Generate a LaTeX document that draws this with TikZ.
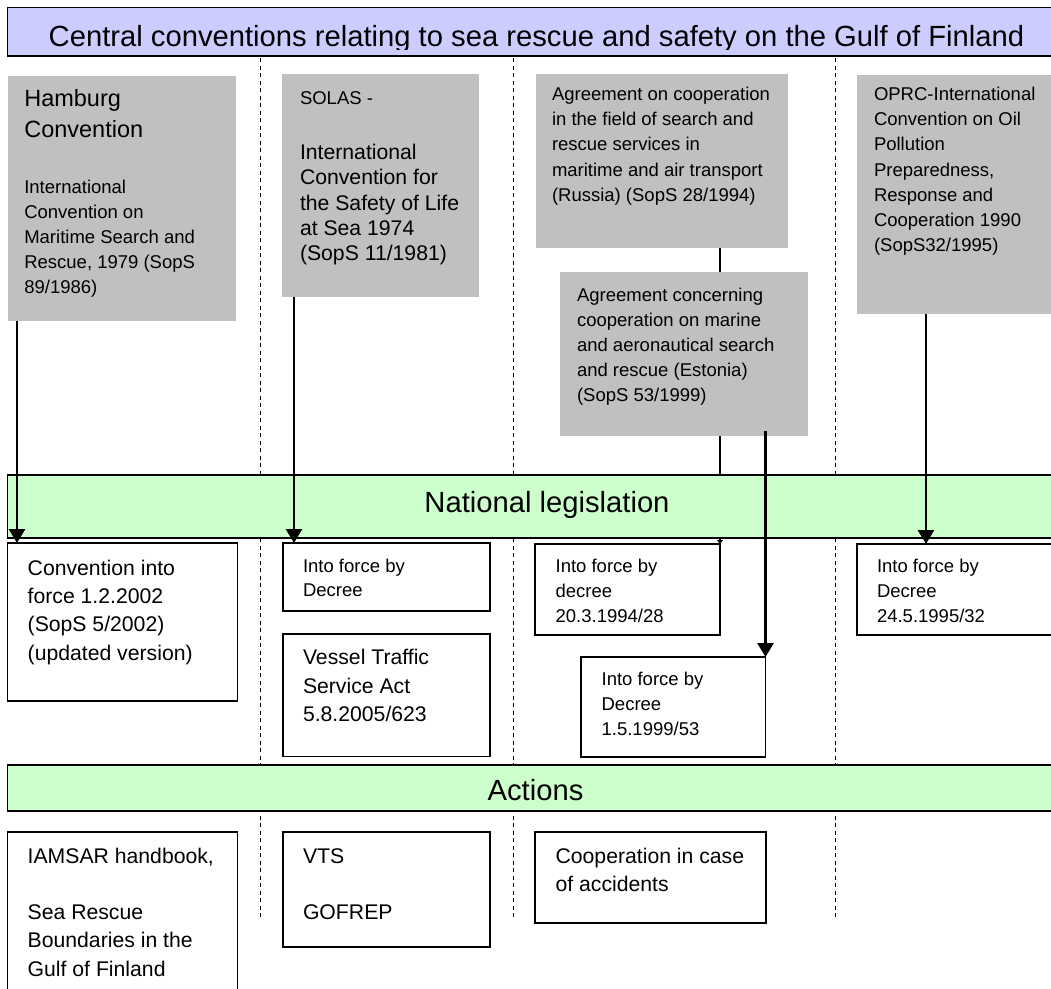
\documentclass[tikz,border=0pt]{standalone}
\usepackage{fontspec}
\setmainfont{Liberation Sans}
\usetikzlibrary{arrows.meta}
\definecolor{graybg}{HTML}{C0C0C0}
\definecolor{lav}{HTML}{CCCCFF}
\definecolor{mint}{HTML}{CCFFCC}
\newcommand\tblock[3]{\vtop{\fontsize{#1}{#2}\selectfont\lineskiplimit=-100pt\lineskip=0pt\relax\halign{##\hfil\cr#3\crcr}}}
\tikzset{
  graybox/.style={fill=graybg, draw=none, anchor=north west},
  whitebox/.style={fill=white, draw=black, line width=1.6pt, anchor=north west},
  band/.style={fill=mint, draw=black, line width=1.6pt, anchor=north west},
  titlebar/.style={fill=lav, draw=black, line width=1.6pt, anchor=north west},
  txt/.style={anchor=base west},
  bandtxt/.style={anchor=base, font=\fontsize{29.2pt}{35pt}\selectfont},
  conn/.style={line width=2.7pt, -{Triangle[width=16pt,length=14pt]}},
  smallconn/.style={line width=2.7pt, -{Triangle[width=6pt,length=4pt]}},
  divline/.style={line width=1pt, dash pattern=on 4pt off 3.5pt}
}
\begin{document}
\begin{tikzpicture}[x=1pt, y=-1pt, every node/.style={inner sep=0pt, outer sep=0pt}]
\useasboundingbox (0,0) rectangle (1051,988);
\clip (0,0) rectangle (1051,988);

% dashed column separators
\coordinate (d1t) at (260,58);  \coordinate (d1b) at (260,920);
\coordinate (d2t) at (513,58);  \coordinate (d2b) at (513,920);
\coordinate (d3t) at (835,58);  \coordinate (d3b) at (835,920);
\draw[divline] (d1t) -- (d1b);
\draw[divline] (d2t) -- (d2b);
\draw[divline] (d3t) -- (d3b);

% title
\node[titlebar, minimum width=1060pt, minimum height=48.7pt] (title) at (7.3,7.3) {};
\begin{scope}
\clip (0,0) rectangle (1051,49.5);
\node[bandtxt] (titletext) at (536.5,46) {Central conventions relating to sea rescue and safety on the Gulf of Finland};
\end{scope}

% gray convention boxes
\node[graybox, minimum width=228pt, minimum height=245pt] (hamb) at (8,76) {};
\node[graybox, minimum width=197pt, minimum height=223pt] (solas) at (282,74) {};
\node[graybox, minimum width=252pt, minimum height=174pt] (russ) at (536,74) {};
\node[graybox, minimum width=210pt, minimum height=239pt] (oprc) at (857,75) {};

\node[txt] (hambH) at (24.3,106.5) {\tblock{23.5pt}{31pt}{Hamburg\cr Convention}};
\node[txt] (hambT) at (24.3,193) {\tblock{18.5pt}{25.2pt}{International\cr Convention on\cr Maritime Search and\cr Rescue, 1979 (SopS\cr 89/1986)}};
\node[txt] (solasH) at (300,104) {\tblock{18.5pt}{25.2pt}{SOLAS -}};
\node[txt] (solasT) at (300,159.5) {\tblock{21.2pt}{25.3pt}{International\cr Convention for\cr the Safety of Life\cr at Sea 1974\cr (SopS 11/1981)}};
\node[txt] (russT) at (552,100.5) {\tblock{18.5pt}{25.2pt}{Agreement on cooperation\cr in the field of search and\cr rescue services in\cr maritime and air transport\cr (Russia) (SopS 28/1994)}};
\node[txt] (oprcT) at (874,100.5) {\tblock{18.5pt}{25.2pt}{OPRC-International\cr Convention on Oil\cr Pollution\cr Preparedness,\cr Response and\cr Cooperation 1990\cr (SopS32/1995)}};

% national legislation decree box (Russia), needed for connector
\node[whitebox, minimum width=185pt, minimum height=91pt] (russD) at (535,544) {};
\coordinate (xc) at (720,0);
\draw[smallconn] (russ.south -| xc) -- (russD.north east);

% Estonia agreement box
\node[graybox, minimum width=248pt, minimum height=164pt] (est) at (560,272) {};
\node[txt] (estT) at (577,301) {\tblock{18.5pt}{25.2pt}{Agreement concerning\cr cooperation on marine\cr and aeronautical search\cr and rescue (Estonia)\cr (SopS 53/1999)}};

% bands
\node[band, minimum width=1060pt, minimum height=63pt] (nl) at (7.4,475) {};
\node[bandtxt] (nlT) at (547,512.6) {National legislation};
\node[band, minimum width=1060pt, minimum height=46pt] (act) at (7.4,765) {};
\node[bandtxt] (actT) at (535.5,800) {Actions};

% white boxes
\node[whitebox, minimum width=230pt, minimum height=158pt] (conv) at (7.4,543) {};
\node[whitebox, minimum width=207pt, minimum height=68pt] (solasD) at (283,543) {};
\node[whitebox, minimum width=207pt, minimum height=122.5pt] (vts) at (283,634) {};
\node[whitebox, minimum width=184.5pt, minimum height=100pt] (estD) at (581,657) {};
\node[whitebox, minimum width=210pt, minimum height=91pt] (oprcD) at (857,544) {};
\node[whitebox, minimum width=230pt, minimum height=170pt] (iamsar) at (7.4,832) {};
\node[whitebox, minimum width=207pt, minimum height=115pt] (vtsA) at (283,832) {};
\node[whitebox, minimum width=231pt, minimum height=91pt] (coopA) at (535,832) {};

\node[txt] (convT) at (27.7,575) {\tblock{21.2pt}{28.4pt}{Convention into\cr force 1.2.2002\cr (SopS 5/2002)\cr (updated version)}};
\node[txt] (solasDT) at (303,572) {\tblock{18.5pt}{24.7pt}{Into force by\cr Decree}};
\node[txt] (vtsT) at (303,664.7) {\tblock{21.2pt}{28.4pt}{Vessel Traffic\cr Service Act\cr 5.8.2005/623}};
\node[txt] (russDT) at (555.6,572) {\tblock{18.5pt}{25pt}{Into force by\cr decree\cr 20.3.1994/28}};
\node[txt] (estDT) at (601.6,685) {\tblock{18.5pt}{25pt}{Into force by\cr Decree\cr 1.5.1999/53}};
\node[txt] (oprcDT) at (877,572) {\tblock{18.5pt}{25pt}{Into force by\cr Decree\cr 24.5.1995/32}};
\node[txt] (iamsarT) at (27.7,863) {\tblock{21.2pt}{28.3pt}{IAMSAR handbook,\cr\cr Sea Rescue\cr Boundaries in the\cr Gulf of Finland}};
\node[txt] (vtsAT) at (303,863) {\tblock{21.2pt}{28pt}{VTS\cr\cr GOFREP}};
\node[txt] (coopAT) at (555.6,863) {\tblock{21.2pt}{28pt}{Cooperation in case\cr of accidents}};

% connectors
\coordinate (xa) at (17,0);
\coordinate (xb) at (294,0);
\coordinate (xe) at (765.5,0);
\coordinate (xo) at (926,0);
\draw[conn] (hamb.south -| xa) -- (conv.north -| xa);
\draw[conn] (solas.south -| xb) -- (solasD.north -| xb);
\draw[conn] ([yshift=5pt]est.south -| xe) -- (estD.north east);
\draw[conn] (oprc.south -| xo) -- (oprcD.north -| xo);
\end{tikzpicture}
\end{document}
